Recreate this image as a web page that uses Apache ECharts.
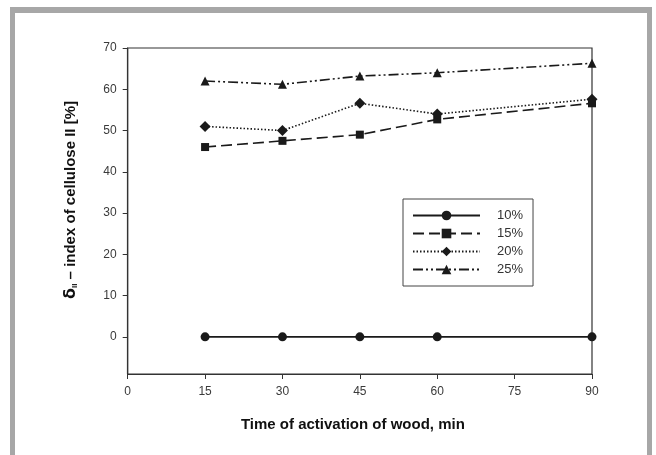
<!DOCTYPE html>
<html>
<head>
<meta charset="utf-8">
<script src="https://cdn.jsdelivr.net/npm/echarts@6/dist/echarts.min.js"></script>
<style>
html,body{margin:0;padding:0;background:#fff;}
#c{width:656px;height:455px;}
</style>
</head>
<body>
<div id="c"></div>
<script>
var times = [15, 30, 45, 60, 90];
var s10 = [0, 0, 0, 0, 0];
var s15 = [46, 47.5, 49, 52.7, 56.6];
var s20 = [51, 50, 56.6, 54, 57.6];
var s25 = [62, 61.2, 63.2, 64, 66.3];
var seriesNames = ['10%', '15%', '20%', '25%'];
var xTicks = [0, 15, 30, 45, 60, 75, 90];
var yTicks = [0, 10, 20, 30, 40, 50, 60, 70];

function pairs(vals) { return times.map(function (t, i) { return [t, vals[i]]; }); }

var chart = echarts.init(document.getElementById('c'), null, {renderer: 'canvas'});
var ink = '#1a1a1a';
function mk(name, vals, symbol, size, dash) {
  return {
    name: name, type: 'line', data: pairs(vals),
    symbol: symbol, symbolSize: size, showSymbol: true,
    itemStyle: {color: ink},
    lineStyle: {color: ink, width: 1.6, type: dash},
    z: 3, animation: false
  };
}
chart.setOption({
  backgroundColor: '#fff',
  animation: false,
  textStyle: {fontFamily: 'Liberation Sans, Arial, sans-serif'},
  graphic: [
    {type: 'rect', shape: {x: 10, y: 7, width: 5, height: 448}, style: {fill: '#a7a7a7'}},
    {type: 'rect', shape: {x: 10, y: 7, width: 642, height: 6}, style: {fill: '#a7a7a7'}},
    {type: 'rect', shape: {x: 647, y: 7, width: 5, height: 448}, style: {fill: '#a7a7a7'}}
  ],
  grid: {left: 127.7, right: 64, top: 48, bottom: 81, show: true, borderColor: '#333', borderWidth: 1.2, backgroundColor: 'transparent'},
  legend: {
    orient: 'vertical', left: 403, top: 199,
    data: seriesNames,
    itemWidth: 67, itemHeight: 12, itemGap: 5,
    padding: [10, 10, 10, 9],
    borderColor: '#444', borderWidth: 1, backgroundColor: '#fff',
    textStyle: {fontSize: 13, color: '#333', padding: [0, 0, 0, 12]}
  },
  xAxis: {
    type: 'value', min: 0, max: 90, interval: 15,
    name: 'Time of activation of wood, min', nameLocation: 'middle', nameGap: 43,
    nameTextStyle: {fontSize: 15, fontWeight: 'bold', color: '#111', padding: [0, 14, 0, 0]},
    axisLine: {show: true, onZero: false, lineStyle: {color: '#333', width: 1.2}},
    axisTick: {show: true, inside: false, length: 5, lineStyle: {color: '#333'}},
    axisLabel: {margin: 12, fontSize: 12, color: '#3a3a3a', formatter: function (v) { return xTicks.indexOf(v) >= 0 ? String(v) : ''; }},
    splitLine: {show: false}
  },
  yAxis: {
    type: 'value', min: -9, max: 70,
    name: '{d|δ}{s|II}{t| – index of cellulose II [%]}', nameLocation: 'middle', nameGap: 49, nameRotate: 90,
    nameTextStyle: {
      fontSize: 15, fontWeight: 'bold', color: '#111', padding: [0, 0, 0, 22],
      rich: {
        d: {fontSize: 16, fontWeight: 'bold', color: '#111', fontFamily: 'DejaVu Sans, sans-serif'},
        s: {fontSize: 8, fontWeight: 'bold', color: '#111', verticalAlign: 'bottom', padding: [6, 0, 0, 0]},
        t: {fontSize: 15, fontWeight: 'bold', color: '#111'}
      }
    },
    axisLine: {show: true, onZero: false, lineStyle: {color: '#333', width: 1.2}},
    axisTick: {show: true, inside: false, length: 5, customValues: yTicks, lineStyle: {color: '#333'}},
    axisLabel: {margin: 11, fontSize: 12, color: '#3a3a3a', customValues: yTicks},
    splitLine: {show: false}
  },
  series: [
    mk('10%', s10, 'circle', 9, 'solid'),
    mk('15%', s15, 'rect', 8, [11, 5]),
    mk('20%', s20, 'diamond', 11, [1.5, 2]),
    mk('25%', s25, 'triangle', 9, [10, 3, 2, 3, 2, 3])
  ]
});
</script>
</body>
</html>
